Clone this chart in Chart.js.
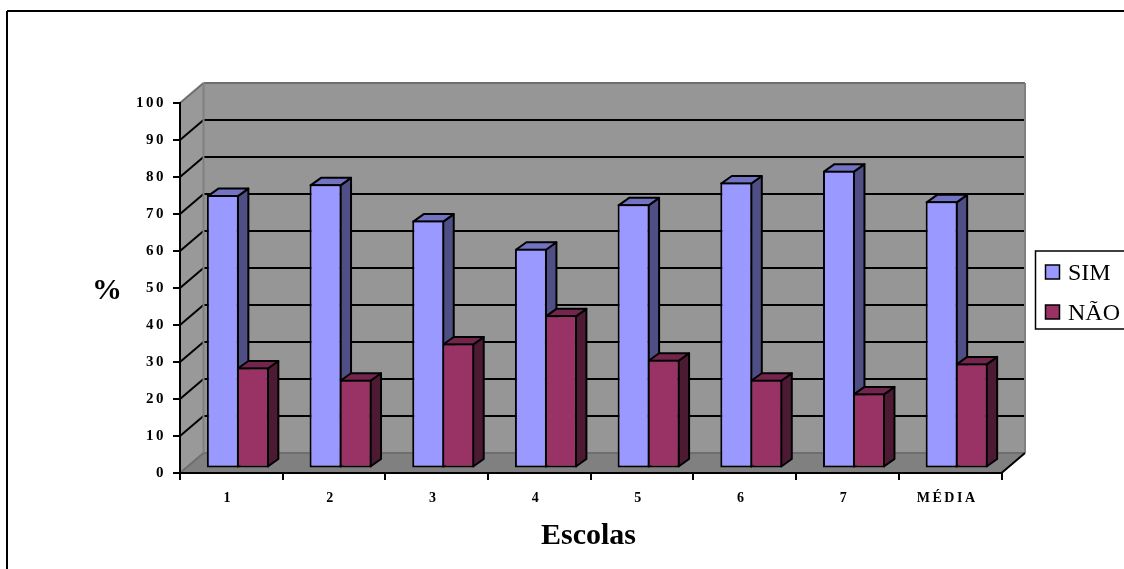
<!DOCTYPE html>
<html>
<head>
    <title>Escolas</title>
    <script src="https://cdn.jsdelivr.net/npm/chart.js@4"></script>
    <style>
        * { margin: 0; padding: 0; }
        body { background: #fff; width: 1124px; height: 569px; overflow: hidden; }
        #chartWrap { position: relative; width: 1124px; height: 569px; }
    </style>
</head>
<body>
    <div id="chartWrap"><canvas id="mainChart"></canvas></div>
    <script>
        const categories = ['1', '2', '3', '4', '5', '6', '7', 'MÉDIA'];
        const simValues = [73.9, 76.8, 67, 59.4, 71.4, 77.3, 80.5, 72.2];
        const naoValues = [27.3, 24, 33.8, 41.4, 29.4, 24, 20.3, 28.4];
        const seriesNames = ['SIM', 'NÃO'];
        const seriesColors = ['#9999ff', '#993366'];
        const sideColors = ['#4f4f85', '#4d1a33'];
        const topColors = ['#7373c4', '#73264d'];
        const yAxisTitle = '%';
        const xAxisTitle = 'Escolas';

        const SERIF = "'Liberation Serif', serif";
        const WALL_DX = 23.5, WALL_DY = 20;   // depth of the box
        const BAR_DX = 10.5, BAR_DY = 7.5;    // depth of one bar
        const BAR_SHIFT_X = 6.5, BAR_SHIFT_Y = -4.5; // bars stand inside the floor

        function poly(ctx, pts, fill, stroke, width) {
            ctx.beginPath();
            pts.forEach((p, i) => i ? ctx.lineTo(p[0], p[1]) : ctx.moveTo(p[0], p[1]));
            ctx.closePath();
            if (fill) { ctx.fillStyle = fill; ctx.fill(); }
            if (stroke) { ctx.strokeStyle = stroke; ctx.lineWidth = width; ctx.stroke(); }
        }

        function line(ctx, x1, y1, x2, y2, color, width) {
            ctx.beginPath();
            ctx.moveTo(x1, y1);
            ctx.lineTo(x2, y2);
            ctx.strokeStyle = color;
            ctx.lineWidth = width;
            ctx.stroke();
        }

        // Walls, floor and the frame go under the scales
        const boxPlugin = {
            id: 'box',
            beforeDraw(chart) {
                const ctx = chart.ctx, a = chart.chartArea, yScale = chart.scales.y;
                ctx.save();
                line(ctx, 7, 11, 1130, 11, '#000', 2);
                line(ctx, 7, 11, 7, 575, '#000', 2);

                poly(ctx, [[a.left, a.bottom], [a.left, a.top], [a.left + WALL_DX, a.top - WALL_DY], [a.left + WALL_DX, a.bottom - WALL_DY]], '#999999');
                poly(ctx, [[a.left + WALL_DX, a.top - WALL_DY], [a.right + WALL_DX, a.top - WALL_DY], [a.right + WALL_DX, a.bottom - WALL_DY], [a.left + WALL_DX, a.bottom - WALL_DY]], '#969696');
                poly(ctx, [[a.left, a.bottom], [a.left + WALL_DX, a.bottom - WALL_DY], [a.right + WALL_DX, a.bottom - WALL_DY], [a.right, a.bottom]], '#808080');

                yScale.ticks.forEach(t => {
                    const y = yScale.getPixelForValue(t.value);
                    const edge = t.value === 0 || t.value === 100;
                    const c = edge ? '#6e6e6e' : '#000';
                    line(ctx, a.left, y, a.left + WALL_DX, y - WALL_DY, c, 2);
                    line(ctx, a.left + WALL_DX, y - WALL_DY, a.right + WALL_DX, y - WALL_DY, c, 2);
                });
                line(ctx, a.left + WALL_DX, a.top - WALL_DY, a.left + WALL_DX, a.bottom - WALL_DY, '#808080', 2);
                line(ctx, a.right + WALL_DX, a.top - WALL_DY, a.right + WALL_DX, a.bottom - WALL_DY, '#808080', 2);
                line(ctx, a.right, a.bottom, a.right + WALL_DX, a.bottom - WALL_DY, '#000', 2);
                ctx.restore();
                ctx.letterSpacing = '2.5px';
            },
            // the side and top faces of every bar, before the library draws the fronts
            beforeDatasetsDraw(chart) {
                const ctx = chart.ctx;
                ctx.save();
                ctx.translate(BAR_SHIFT_X, BAR_SHIFT_Y);
                ctx.save();
                ctx.lineJoin = 'round';
                seriesNames.forEach((name, i) => {
                    chart.getDatasetMeta(i).data.forEach(bar => {
                        const l = bar.x - bar.width / 2 + 1, r = bar.x + bar.width / 2 - 1;
                        const t = bar.y + 1, b = bar.base - 1;
                        poly(ctx, [[r, t], [r + BAR_DX, t - BAR_DY], [r + BAR_DX, b - BAR_DY], [r, b]], sideColors[i], '#000', 2);
                        poly(ctx, [[l, t], [l + BAR_DX, t - BAR_DY], [r + BAR_DX, t - BAR_DY], [r, t]], topColors[i], '#000', 2);
                    });
                });
                ctx.restore();
            },
            afterDatasetsDraw(chart) {
                chart.ctx.restore();
            },
            // axis titles and legend
            afterDraw(chart) {
                const ctx = chart.ctx;
                ctx.save();
                ctx.letterSpacing = '0px';
                ctx.fillStyle = '#000';
                ctx.textBaseline = 'middle';
                ctx.textAlign = 'center';
                ctx.font = 'bold 30px ' + SERIF;
                ctx.fillText(yAxisTitle, 107, 291);
                ctx.fillText(xAxisTitle, 588.5, 536);

                ctx.strokeStyle = '#000';
                ctx.lineWidth = 1.5;
                ctx.strokeRect(1035.5, 251, 100, 78);
                ctx.textAlign = 'left';
                ctx.font = '24px ' + SERIF;
                seriesNames.forEach((name, i) => {
                    const y = 265 + i * 40;
                    ctx.fillStyle = seriesColors[i];
                    ctx.fillRect(1045.5, y, 14, 14);
                    ctx.strokeRect(1045.5, y, 14, 14);
                    ctx.fillStyle = '#000';
                    ctx.fillText(name, 1068, y + 9);
                });
                ctx.restore();
                ctx.letterSpacing = '0px';
            }
        };

        new Chart(document.getElementById('mainChart'), {
            type: 'bar',
            data: {
                labels: categories,
                datasets: [
                    { label: seriesNames[0], data: simValues, backgroundColor: seriesColors[0] },
                    { label: seriesNames[1], data: naoValues, backgroundColor: seriesColors[1] }
                ]
            },
            options: {
                responsive: true,
                maintainAspectRatio: false,
                animation: false,
                layout: { padding: { left: 0, top: 103, right: 122.5, bottom: 0 } },
                datasets: {
                    bar: {
                        borderColor: '#000',
                        borderWidth: 2,
                        borderSkipped: false,
                        categoryPercentage: 0.584,
                        barPercentage: 1.067
                    }
                },
                plugins: {
                    legend: { display: false },
                    tooltip: { enabled: false }
                },
                scales: {
                    x: {
                        afterFit(scale) { scale.height = 96; },
                        grid: { drawOnChartArea: false, color: '#000', lineWidth: 2, tickLength: 7 },
                        border: { color: '#000', width: 2 },
                        ticks: {
                            color: '#000',
                            maxRotation: 0,
                            padding: 10,
                            labelOffset: -3,
                            font: { family: SERIF, size: 14, weight: 'bold' }
                        }
                    },
                    y: {
                        min: 0,
                        max: 100,
                        afterFit(scale) { scale.width = 180; },
                        grid: { drawOnChartArea: false, color: '#000', lineWidth: 2, tickLength: 7 },
                        border: { color: '#000', width: 2 },
                        ticks: {
                            stepSize: 10,
                            autoSkip: false,
                            color: '#000',
                            padding: 7,
                            font: { family: SERIF, size: 15, weight: 'bold' }
                        }
                    }
                }
            },
            plugins: [boxPlugin]
        });
    </script>
</body>
</html>
